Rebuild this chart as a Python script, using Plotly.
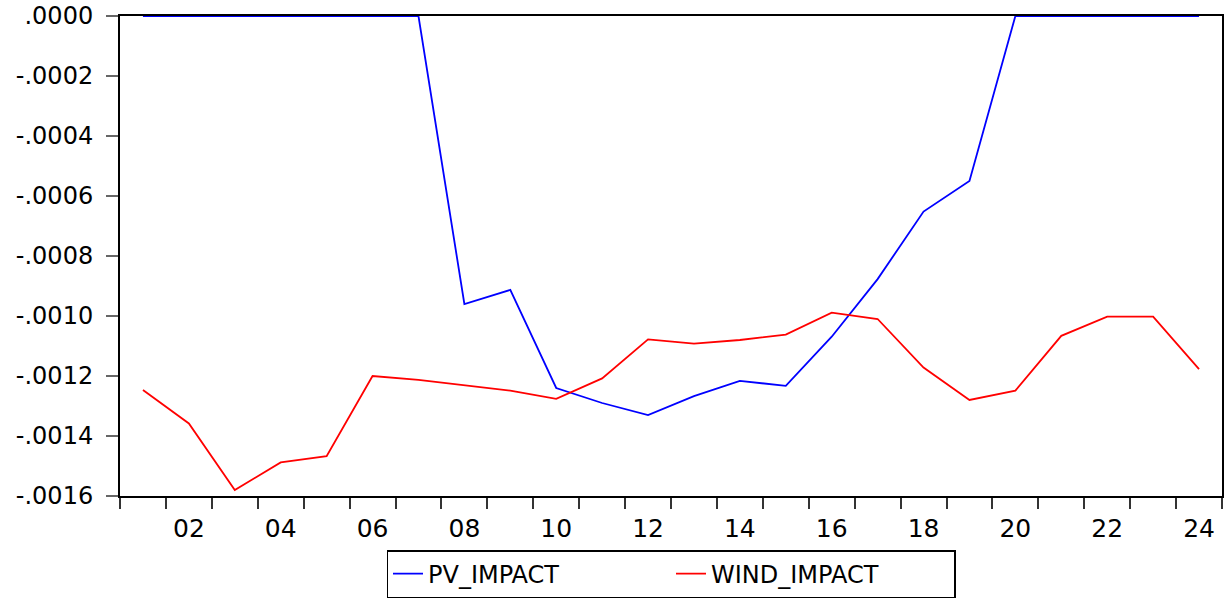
import plotly.graph_objects as go

hours = list(range(1, 25))
hour_labels = ["02", "04", "06", "08", "10", "12", "14", "16", "18", "20", "22", "24"]
label_positions = [2, 4, 6, 8, 10, 12, 14, 16, 18, 20, 22, 24]

pv_impact = [0.0, 0.0, 0.0, 0.0, 0.0, 0.0, 0.0,
             -0.000960, -0.000913, -0.001240, -0.001290, -0.001330,
             -0.001267, -0.001216, -0.001233, -0.001069, -0.000877,
             -0.000652, -0.000550, 0.0, 0.0, 0.0, 0.0, 0.0]
wind_impact = [-0.001247, -0.001358, -0.001580, -0.001488, -0.001467, -0.001200,
               -0.001213, -0.001230, -0.001249, -0.001276, -0.001208, -0.001078,
               -0.001092, -0.001080, -0.001062, -0.000989, -0.001010, -0.001172,
               -0.001280, -0.001249, -0.001066, -0.001002, -0.001002, -0.001177]

y_tickvals = [0.0, -0.0002, -0.0004, -0.0006, -0.0008, -0.0010, -0.0012, -0.0014, -0.0016]
y_ticktext = [".0000", "-.0002", "-.0004", "-.0006", "-.0008", "-.0010", "-.0012", "-.0014", "-.0016"]

band_edges = [h + 0.5 for h in range(0, 25)]

fig = go.Figure()
fig.add_trace(go.Scatter(x=hours, y=pv_impact, mode="lines", name="PV_IMPACT",
                         line=dict(color="#0000FF", width=1.8), cliponaxis=False))
fig.add_trace(go.Scatter(x=hours, y=wind_impact, mode="lines", name="WIND_IMPACT",
                         line=dict(color="#FF0000", width=1.8), cliponaxis=False))

fig.update_layout(
    width=1226, height=601,
    margin=dict(l=120, r=4, t=16, b=105, autoexpand=False),
    paper_bgcolor="white", plot_bgcolor="white",
    font=dict(family="DejaVu Sans", color="black"),
    showlegend=True,
    legend=dict(orientation="h", x=0.5, xanchor="center", y=-0.2125, yanchor="bottom",
                bordercolor="black", borderwidth=1.5, font=dict(size=24),
                entrywidth=238, bgcolor="white", tracegroupgap=0),
    xaxis=dict(range=[0.5, 24.5], tickmode="array", tickvals=label_positions,
               ticktext=hour_labels, ticks="", tickfont=dict(size=25),
               showgrid=False, zeroline=False, showline=True, linecolor="black",
               linewidth=2, mirror=True, ticklabelstandoff=9, automargin=False,
               minor=dict(tickmode="array", tickvals=band_edges, ticks="outside",
                          ticklen=11, tickcolor="#333333", tickwidth=1.5, showgrid=False)),
    yaxis=dict(range=[-0.0016, 0.0], tickmode="array", tickvals=y_tickvals,
               ticktext=y_ticktext, ticks="outside", ticklen=12, tickcolor="#666666",
               tickwidth=1.5, tickfont=dict(size=24), showgrid=False, zeroline=False,
               showline=True, linecolor="black", linewidth=2, mirror=True,
               ticklabelstandoff=8, automargin=False),
)

fig.write_html("out.html", config={"displayModeBar": False},
               post_script="document.body.style.margin='0';document.body.style.overflow='hidden';")
